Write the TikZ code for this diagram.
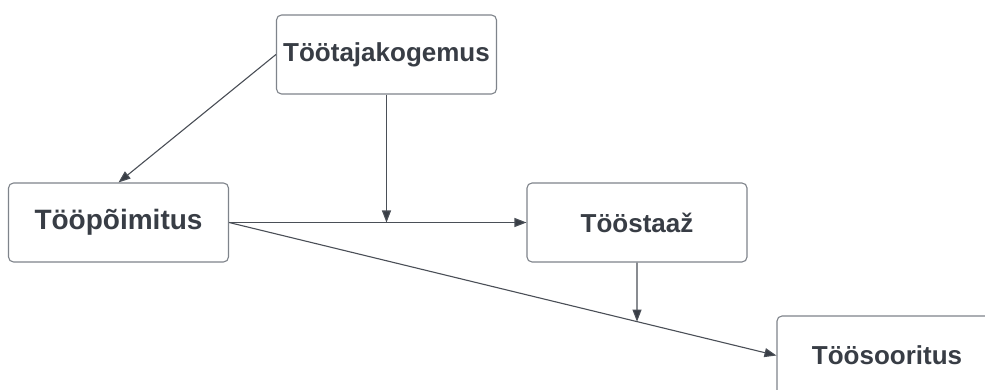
\documentclass[tikz,border=0pt]{standalone}
\usepackage{fontspec}
\setmainfont{Liberation Sans}
\usepackage{tikz}
\usetikzlibrary{arrows.meta}
\definecolor{boxline}{HTML}{7F848B}
\definecolor{wire}{HTML}{4A4F57}
\definecolor{ink}{HTML}{383D45}
\tikzset{
	tbox/.style={draw=boxline, line width=1.1pt, rounded corners=5pt, fill=white,
		minimum width=220pt, minimum height=79pt, text=ink,
		font=\fontsize{26}{30}\selectfont\bfseries},
	tarrow/.style={draw=wire, line width=1.1pt, -{Triangle[length=12pt,width=9pt,fill=ink]}}
}
\begin{document}
\begin{tikzpicture}[x=1pt,y=-1pt]
			%%Frame
			\clip (0,0) rectangle (985,390);
			\fill[white] (0,0) rectangle (985,390);
			%%Boxes
			\node[tbox, text depth=5pt] (taja) at (386.5,54.5) {Töötajakogemus};
			\node[tbox, font=\fontsize{28}{32}\selectfont\bfseries] (poim) at (118.5,222.5) {Tööpõimitus};
			\node[tbox] (staaz) at (637,222.5) {Tööstaaž};
			\node[tbox] (soor) at (887,355.5) {Töösooritus};
			%%Junctions on the lines
			\coordinate (j1) at (taja.south |- poim.east);
			\coordinate (j2) at (intersection of poim.east--soor.west and staaz.south--staaz.center);
			%%Arrows
			\draw[tarrow] (taja.west) -- (poim.north);
			\draw[tarrow] (poim.east) -- (staaz.west);
			\draw[tarrow] (poim.east) -- (soor.west);
			\draw[tarrow] (taja.south) -- (j1);
			\draw[tarrow] (staaz.south) -- (j2);
\end{tikzpicture}
\end{document}
